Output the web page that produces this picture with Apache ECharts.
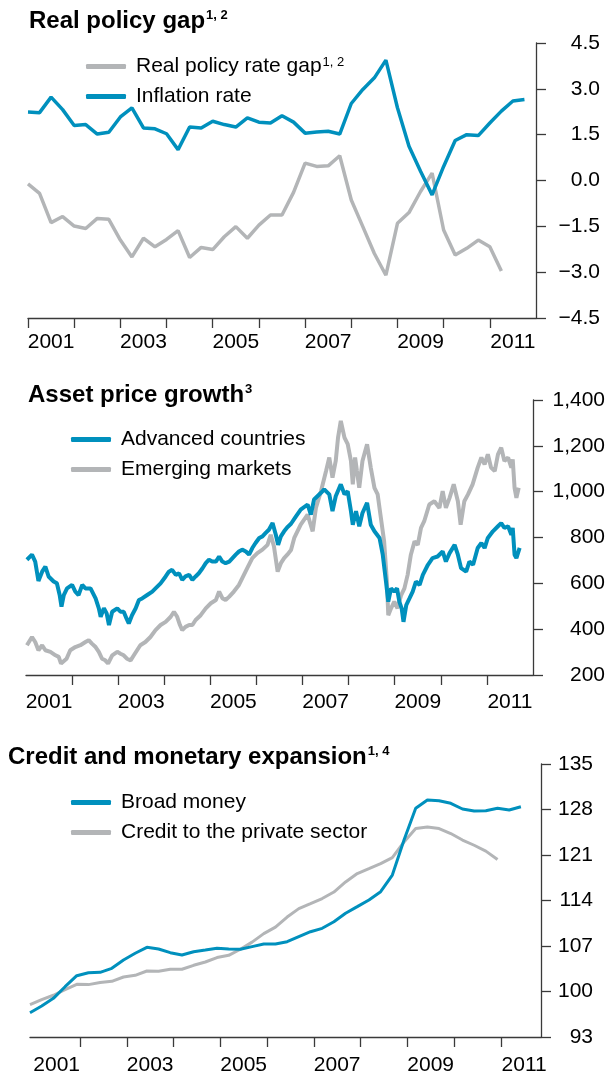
<!DOCTYPE html>
<html>
<head>
<meta charset="utf-8">
<script src="https://cdn.jsdelivr.net/npm/echarts@6/dist/echarts.min.js"></script>
<style>
html, body { margin: 0; padding: 0; background: #fff; }
#chart { width: 608px; height: 1076px; }
</style>
</head>
<body>
<div id="chart"></div>
<script>
// real policy gap, quarterly from 2001 Q1
const gapStart = 2001.0
const policyGap = [-0.11, -0.42, -1.38, -1.18, -1.49, -1.57, -1.24, -1.27, -1.95, -2.5,
  -1.89, -2.17, -1.93, -1.64, -2.52, -2.19, -2.26, -1.84, -1.51, -1.89,
  -1.46, -1.13, -1.13, -0.39, 0.57, 0.46, 0.48, 0.81, -0.64, -1.51,
  -2.39, -3.1, -1.4, -1.05, -0.36, 0.24, -1.62, -2.44, -2.22, -1.95,
  -2.17, -2.96]
const inflation = [2.24, 2.22, 2.73, 2.32, 1.8, 1.83, 1.52, 1.58, 2.08, 2.38,
  1.72, 1.69, 1.53, 1.01, 1.75, 1.72, 1.94, 1.83, 1.75, 2.05,
  1.91, 1.88, 2.12, 1.91, 1.55, 1.59, 1.61, 1.52, 2.52, 2.98,
  3.36, 3.94, 2.38, 1.12, 0.3, -0.47, 0.46, 1.31, 1.5, 1.47,
  1.88, 2.27, 2.6, 2.65]

// asset prices, [year, index]
const advanced = [[2001.02, 703], [2001.13, 725], [2001.2, 695], [2001.27, 610], [2001.35, 651], [2001.42, 673],
  [2001.49, 630], [2001.6, 608], [2001.67, 600], [2001.73, 549], [2001.77, 498], [2001.82, 549], [2001.89, 578],
  [2002.0, 593], [2002.07, 564], [2002.14, 549], [2002.22, 593], [2002.29, 578], [2002.4, 578], [2002.51, 534],
  [2002.58, 491], [2002.62, 454], [2002.69, 491], [2002.75, 469], [2002.8, 418], [2002.87, 476], [2002.98, 491],
  [2003.05, 476], [2003.12, 476], [2003.18, 447], [2003.23, 425], [2003.3, 461], [2003.38, 491], [2003.45, 527],
  [2003.52, 534], [2003.63, 549], [2003.74, 564], [2003.81, 578], [2003.92, 600], [2004.03, 630], [2004.1, 651],
  [2004.17, 659], [2004.25, 637], [2004.32, 644], [2004.39, 615], [2004.46, 630], [2004.54, 637], [2004.61, 615],
  [2004.68, 630], [2004.75, 644], [2004.83, 666], [2004.9, 688], [2004.97, 703], [2005.04, 695], [2005.12, 695],
  [2005.19, 717], [2005.26, 695], [2005.33, 688], [2005.41, 695], [2005.48, 710], [2005.55, 725], [2005.62, 739],
  [2005.69, 747], [2005.77, 739], [2005.84, 725], [2005.91, 754], [2005.98, 776], [2006.06, 798], [2006.13, 805],
  [2006.2, 820], [2006.27, 834], [2006.35, 863], [2006.42, 812], [2006.47, 768], [2006.53, 805], [2006.6, 827],
  [2006.67, 845], [2006.75, 860], [2006.85, 890], [2006.96, 922], [2007.11, 944], [2007.18, 900], [2007.25, 966],
  [2007.4, 995], [2007.47, 1010], [2007.58, 988], [2007.65, 915], [2007.72, 980], [2007.83, 1032], [2007.91, 988],
  [2007.98, 1002], [2008.05, 915], [2008.09, 856], [2008.16, 915], [2008.23, 849], [2008.3, 907], [2008.4, 951],
  [2008.48, 856], [2008.56, 827], [2008.67, 798], [2008.74, 725], [2008.81, 608], [2008.86, 520], [2008.92, 578],
  [2008.99, 564], [2009.05, 578], [2009.1, 520], [2009.15, 491], [2009.19, 432], [2009.25, 505], [2009.32, 534],
  [2009.39, 564], [2009.46, 608], [2009.54, 593], [2009.61, 637], [2009.72, 681], [2009.82, 710], [2009.93, 717],
  [2010.04, 739], [2010.11, 695], [2010.19, 732], [2010.3, 768], [2010.37, 725], [2010.44, 666], [2010.55, 651],
  [2010.62, 695], [2010.7, 681], [2010.8, 754], [2010.88, 776], [2010.95, 754], [2011.02, 798], [2011.13, 827],
  [2011.24, 849], [2011.31, 863], [2011.38, 842], [2011.46, 849], [2011.53, 812], [2011.56, 842], [2011.6, 725],
  [2011.64, 710], [2011.71, 755]]
const emerging = [[2001.02, 330], [2001.13, 366], [2001.2, 344], [2001.27, 308], [2001.35, 330], [2001.42, 308],
  [2001.53, 301], [2001.64, 286], [2001.71, 279], [2001.76, 250], [2001.8, 242], [2001.88, 271], [2001.96, 308],
  [2002.07, 322], [2002.18, 330], [2002.29, 344], [2002.36, 352], [2002.43, 337], [2002.51, 322], [2002.58, 301],
  [2002.65, 271], [2002.72, 264], [2002.78, 250], [2002.87, 286], [2002.98, 301], [2003.05, 293], [2003.12, 286],
  [2003.19, 271], [2003.27, 264], [2003.34, 286], [2003.41, 308], [2003.48, 330], [2003.59, 344], [2003.7, 366],
  [2003.81, 396], [2003.92, 418], [2004.03, 432], [2004.14, 454], [2004.21, 476], [2004.28, 454], [2004.34, 418],
  [2004.39, 396], [2004.46, 410], [2004.54, 418], [2004.61, 418], [2004.68, 440], [2004.79, 461], [2004.9, 491],
  [2005.01, 513], [2005.12, 527], [2005.19, 564], [2005.26, 535], [2005.33, 527], [2005.41, 542], [2005.51, 564],
  [2005.62, 593], [2005.69, 622], [2005.8, 666], [2005.91, 710], [2006.02, 732], [2006.13, 747], [2006.24, 768],
  [2006.31, 812], [2006.38, 761], [2006.46, 651], [2006.53, 688], [2006.6, 710], [2006.67, 725], [2006.75, 745],
  [2006.82, 798], [2006.96, 856], [2007.11, 900], [2007.22, 827], [2007.29, 929], [2007.4, 1002], [2007.51, 1090],
  [2007.58, 1149], [2007.65, 1061], [2007.72, 1134], [2007.77, 1236], [2007.83, 1309], [2007.91, 1236],
  [2007.98, 1207], [2008.05, 1134], [2008.09, 1032], [2008.14, 1149], [2008.18, 1090], [2008.23, 1017],
  [2008.3, 1134], [2008.4, 1207], [2008.48, 1105], [2008.56, 1017], [2008.63, 988], [2008.7, 885], [2008.77, 783],
  [2008.83, 608], [2008.86, 461], [2008.92, 491], [2008.99, 520], [2009.06, 491], [2009.14, 549], [2009.21, 578],
  [2009.28, 637], [2009.35, 725], [2009.43, 783], [2009.5, 768], [2009.57, 842], [2009.64, 871], [2009.75, 944],
  [2009.86, 958], [2009.97, 929], [2010.04, 1002], [2010.11, 929], [2010.19, 973], [2010.28, 1032], [2010.37, 958],
  [2010.43, 856], [2010.51, 958], [2010.59, 988], [2010.69, 1032], [2010.8, 1105], [2010.88, 1149], [2010.95, 1119],
  [2011.02, 1163], [2011.09, 1105], [2011.17, 1090], [2011.24, 1163], [2011.31, 1192], [2011.38, 1134],
  [2011.46, 1149], [2011.53, 1105], [2011.56, 1141], [2011.6, 1017], [2011.64, 973], [2011.69, 1017]]

// credit and money, quarterly
const creditStart = 2000.93
const broadMoney = [96.74, 97.77, 98.95, 100.74, 102.43, 102.89, 102.95, 103.57, 104.85, 105.88,
  106.8, 106.54, 105.97, 105.62, 106.12, 106.38, 106.65, 106.54, 106.5, 106.9,
  107.3, 107.3, 107.66, 108.43, 109.2, 109.72, 110.74, 112.03, 113.05, 114.08,
  115.35, 117.92, 123.31, 128.18, 129.46, 129.35, 128.95, 128.08, 127.77, 127.8,
  128.18, 127.92, 128.43]
const privateCredit = [97.98, 98.75, 99.42, 100.29, 101.11, 101.06, 101.37, 101.57, 102.23, 102.49,
  103.15, 103.11, 103.42, 103.42, 104.03, 104.54, 105.22, 105.57, 106.5, 107.6,
  108.9, 109.9, 111.46, 112.75, 113.52, 114.3, 115.3, 116.85, 118.14, 118.9,
  119.68, 120.6, 123.0, 125.06, 125.3, 125.06, 124.3, 123.3, 122.5, 121.6,
  120.3]

const yearLabels = [2001.5, 2003.5, 2005.5, 2007.5, 2009.5, 2011.5]
const gapTicks = [-4.5, -3, -1.5, 0, 1.5, 3, 4.5]
const creditTicks = [93, 100, 107, 114, 121, 128, 135]

const BLUE = '#0090bd'
const GREY = '#b3b5b7'
const AXIS = '#3a3a3a'
const FONT = "'Liberation Sans', Arial, Helvetica, sans-serif"

function quarterly (start, values) {
  return values.map((v, i) => [start + i * 0.25, v])
}

function xAxisFor (grid, min, max, ticks, margin) {
  return {
    gridIndex: grid,
    type: 'value',
    position: 'bottom',
    min: min,
    max: max,
    axisLine: { show: true, onZero: false, lineStyle: { color: AXIS, width: 1.3 } },
    axisTick: { show: true, length: 10, customValues: ticks, lineStyle: { color: AXIS, width: 1.3 } },
    axisLabel: {
      customValues: yearLabels,
      formatter: v => String(Math.floor(v)),
      margin: margin,
      fontSize: 21,
      color: '#000',
      fontFamily: FONT
    },
    splitLine: { show: false }
  }
}

function yAxisFor (grid, margin, extra) {
  return Object.assign({
    gridIndex: grid,
    type: 'value',
    position: 'right',
    axisLine: { show: true, onZero: false, lineStyle: { color: AXIS, width: 1.3 } },
    axisTick: { show: true, length: 10, lineStyle: { color: AXIS, width: 1.3 } },
    splitLine: { show: false }
  }, extra, {
    axisLabel: Object.assign({
      margin: margin,
      align: 'right',
      fontSize: 21,
      color: '#000',
      fontFamily: FONT
    }, extra.axisLabel || {})
  })
}

function line (name, grid, data, color, width) {
  return {
    name: name,
    type: 'line',
    xAxisIndex: grid,
    yAxisIndex: grid,
    data: data,
    showSymbol: false,
    color: color,
    lineStyle: { color: color, width: width },
    emphasis: { disabled: true }
  }
}

const titleRich = {
  t: { fontSize: 24, fontWeight: 'bold', color: '#000', fontFamily: FONT },
  s: { fontSize: 13, fontWeight: 'bold', color: '#000', fontFamily: FONT, verticalAlign: 'top', padding: [0, 0, 0, 1] }
}
const legendRich = {
  n: { fontSize: 21, color: '#000', fontFamily: FONT },
  s: { fontSize: 13, color: '#000', fontFamily: FONT, verticalAlign: 'top', padding: [0, 0, 0, 1] }
}

function legendFor (names, left, top) {
  return {
    data: names,
    orient: 'vertical',
    left: left,
    top: top,
    padding: 0,
    itemWidth: 40,
    itemHeight: 5,
    itemGap: 9,
    icon: 'roundRect',
    selectedMode: false,
    textStyle: { fontSize: 21, color: '#000', fontFamily: FONT, padding: [0, 0, 0, 5], rich: legendRich },
    formatter: name => name === 'Real policy rate gap' ? '{n|' + name + '}{s|1, 2}' : '{n|' + name + '}'
  }
}

const chart = echarts.init(document.getElementById('chart'))
chart.setOption({
  animation: false,
  backgroundColor: '#fff',
  textStyle: { fontFamily: FONT },
  title: [
    { left: 29, top: 9, padding: 0, text: '{t|Real policy gap}{s|1, 2}', textStyle: { rich: titleRich } },
    { left: 28, top: 383, padding: 0, text: '{t|Asset price growth}{s|3}', textStyle: { rich: titleRich } },
    { left: 8, top: 745, padding: 0, text: '{t|Credit and monetary expansion}{s|1, 4}', textStyle: { rich: titleRich } }
  ],
  legend: [
    legendFor(['Real policy rate gap', 'Inflation rate'], 86, 56),
    legendFor(['Advanced countries', 'Emerging markets'], 71, 429),
    legendFor(['Broad money', 'Credit to the private sector'], 71, 792)
  ],
  grid: [
    { left: 28, top: 43, width: 508, height: 275 },
    { left: 26, top: 400, width: 507, height: 275 },
    { left: 30, top: 764, width: 511, height: 273 }
  ],
  xAxis: [
    xAxisFor(0, 2001, 2012, [2001, 2002, 2003, 2004, 2005, 2006, 2007, 2008, 2009, 2010, 2011], 14),
    xAxisFor(1, 2001, 2012, [2002, 2003, 2004, 2005, 2006, 2007, 2008, 2009, 2010, 2011], 17),
    xAxisFor(2, 2000.93, 2011.86, [2002, 2003, 2004, 2005, 2006, 2007, 2008, 2009, 2010, 2011], 18)
  ],
  yAxis: [
    yAxisFor(0, 64, {
      min: -4.5, max: 4.5,
      axisTick: { show: true, length: 10, customValues: gapTicks, lineStyle: { color: AXIS, width: 1.3 } },
      axisLabel: { customValues: gapTicks, formatter: v => v.toFixed(1).replace('-', '\u2212') }
    }),
    yAxisFor(1, 72, {
      min: 200, max: 1400, interval: 200,
      axisLabel: { formatter: v => v >= 1000 ? Math.floor(v / 1000) + ',' + String(v % 1000).padStart(3, '0') : String(v) }
    }),
    yAxisFor(2, 52, {
      min: 93, max: 135,
      axisTick: { show: true, length: 10, customValues: creditTicks, lineStyle: { color: AXIS, width: 1.3 } },
      axisLabel: { customValues: creditTicks }
    })
  ],
  series: [
    line('Real policy rate gap', 0, quarterly(gapStart, policyGap), GREY, 3.5),
    line('Inflation rate', 0, quarterly(gapStart, inflation), BLUE, 3.5),
    line('Emerging markets', 1, emerging, GREY, 4),
    line('Advanced countries', 1, advanced, BLUE, 4),
    line('Credit to the private sector', 2, quarterly(creditStart, privateCredit), GREY, 3),
    line('Broad money', 2, quarterly(creditStart, broadMoney), BLUE, 3)
  ]
})
</script>
</body>
</html>
